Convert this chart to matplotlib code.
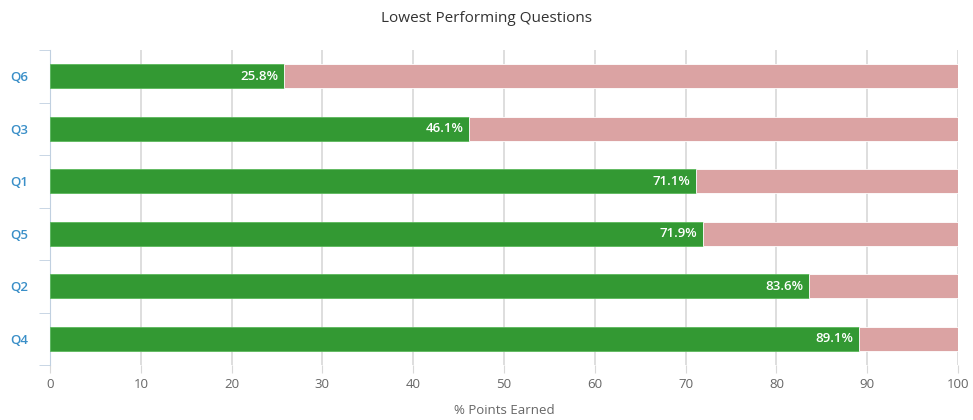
import numpy as np
import matplotlib.pyplot as plt

# data
questions = ["Q6", "Q3", "Q1", "Q5", "Q2", "Q4"]
earned = [25.8, 46.1, 71.1, 71.9, 83.6, 89.1]
x_ticks = [0, 10, 20, 30, 40, 50, 60, 70, 80, 90, 100]

plt.rcParams['font.family'] = ['Open Sans', 'DejaVu Sans']

fig = plt.figure(figsize=(9.73, 4.2), dpi=100)
ax = fig.add_axes([50/973, 1-365/420, 908/973, 315/420])

y = np.arange(len(questions))
missed = [100 - e for e in earned]
ax.barh(y, earned, height=0.46, color="#339933", edgecolor="#5cb85c", linewidth=0.6, zorder=3)
ax.barh(y, missed, left=earned, height=0.46, color="#dba3a3", edgecolor="white", linewidth=0.6, zorder=3)

for yi, e in zip(y, earned):
    ax.text(e - 0.6, yi, f"{e}%", color="white", ha="right", va="center",
            fontsize=9.5, fontweight="semibold", zorder=4)

ax.set_xlim(0, 100)
ax.set_ylim(len(questions) - 0.5, -0.5)
ax.set_xticks(x_ticks)
ax.set_xticklabels([str(t) for t in x_ticks], color="#666666", fontsize=9.5)
ax.xaxis.grid(True, color="#d8d8d8", linewidth=1.2, zorder=0)
ax.tick_params(axis="x", length=6, color="#d8d8d8", pad=3)

ax.set_yticks(y)
ax.set_yticklabels(questions, color="#3a8fc8", fontsize=9.5, fontweight="semibold")
ax.set_yticks(np.arange(len(questions) + 1) - 0.5, minor=True)
ax.tick_params(axis="y", which="major", length=0, pad=16)
ax.tick_params(axis="y", which="minor", length=8, color="#c0d0e0")

for s in ["top", "right", "bottom"]:
    ax.spines[s].set_visible(False)
ax.spines["left"].set_color("#c0d0e0")

ax.set_xlabel("% Points Earned", color="#666666", fontsize=9.5, labelpad=10)
fig.suptitle("Lowest Performing Questions", y=0.975, fontsize=11, color="#333333")

fig.savefig("out.png", dpi=100)
